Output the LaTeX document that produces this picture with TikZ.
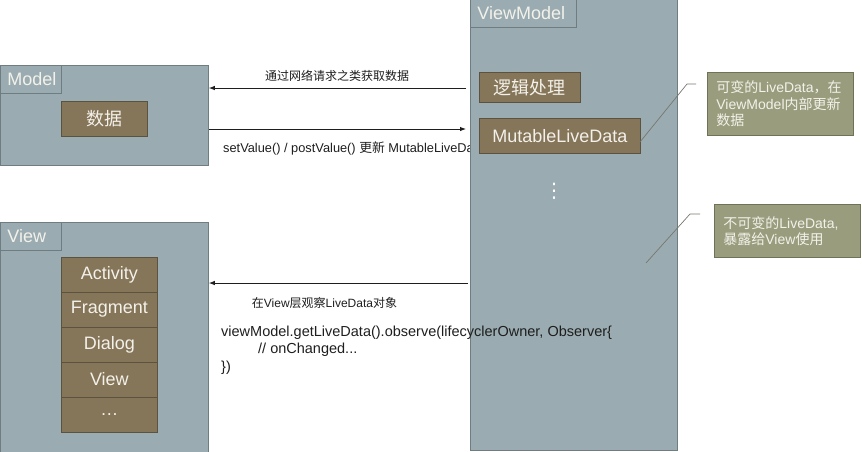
\documentclass[tikz,border=0pt]{standalone}
\usepackage{fontspec}
\setmainfont{Liberation Sans}
\newfontfamily\cjk{Noto Sans CJK SC}
\newfontfamily\dejavu{DejaVu Sans}
\newcommand\zh[1]{{\cjk #1}}
\usetikzlibrary{arrows.meta}
\definecolor{panel}{HTML}{9AACB1}
\definecolor{brownbox}{HTML}{857559}
\definecolor{olivebox}{HTML}{9A9D7D}
\definecolor{edgegray}{HTML}{6F7C80}
\definecolor{edgebrown}{HTML}{5C5240}
\definecolor{edgeolive}{HTML}{707258}
\definecolor{lighttext}{HTML}{F3F1EA}
\definecolor{leadercol}{HTML}{77776F}
\definecolor{inkcol}{HTML}{1E1E1E}
\tikzset{
  panelbox/.style={draw=edgegray, fill=panel, line width=0.8pt, anchor=north west, inner sep=0pt},
  titlebox/.style={draw=edgegray, fill=panel, line width=0.8pt, text=lighttext,
    font=\fontsize{18}{20}\selectfont, anchor=north west, inner xsep=7pt, inner ysep=0pt,
    minimum height=28pt, align=left, text width=#1},
  brownbox/.style={draw=edgebrown, fill=brownbox, line width=0.8pt, text=lighttext,
    font=\fontsize{18}{20}\selectfont, anchor=north west, inner sep=0pt},
  calloutbox/.style={draw=edgeolive, fill=olivebox, line width=0.8pt, text=lighttext,
    font=\fontsize{14}{16.5}\selectfont, anchor=north west, inner xsep=9pt, inner ysep=0pt,
    align=left},
  arr/.style={draw=inkcol, line width=0.9pt, -{Latex[length=6pt,width=4.5pt]}},
  leader/.style={draw=leadercol, line width=0.7pt},
  lbl/.style={text=inkcol, inner sep=0pt, font=\fontsize{12}{14}\selectfont},
}
\begin{document}
\begin{tikzpicture}[x=1pt,y=-1pt]
\useasboundingbox (0,0) rectangle (862,451);

% ---------------- Model ----------------
\node[panelbox, minimum width=208pt, minimum height=100pt] (model) at (0,65) {};
\node[titlebox=47pt] (modelt) at (0,65) {Model};
\node[brownbox, minimum width=86pt, minimum height=35pt] (data) at (61,101) {\zh{数据}};

% ---------------- View ----------------
\node[panelbox, minimum width=208pt, minimum height=230pt] (view) at (0,222) {};
\node[titlebox=47pt] (viewt) at (0,222) {View};
\node[brownbox, minimum width=96pt, minimum height=34.5pt] (act) at (61,257) {Activity};
\node[brownbox, minimum width=96pt, minimum height=35pt] (frag) at (61,291.5) {Fragment};
\node[brownbox, minimum width=96pt, minimum height=35pt] (dlg) at (61,326.5) {Dialog};
\node[brownbox, minimum width=96pt, minimum height=35pt] (vw) at (61,361.5) {View};
\node[brownbox, minimum width=96pt, minimum height=35pt] (more) at (61,396.5) {…};

% ---------------- connectors and labels ----------------
\coordinate (a1) at (466,88);
\draw[arr] (a1) -- (a1 -| model.east);
\node[lbl] (l1) at (337,76) {\zh{通过网络请求之类获取数据}};

\coordinate (a2) at (466,129);
\draw[arr] (a2 -| model.east) -- (a2);
\node[lbl, anchor=west, font=\fontsize{12.8}{14}\selectfont] (l2) at (223,148) {setValue() / postValue() \zh{更新} MutableLiveData};

\coordinate (a3) at (468,283);
\draw[arr] (a3) -- (a3 -| view.east);
\node[lbl] (l3) at (324.5,303) {\zh{在}View\zh{层观察}LiveData\zh{对象}};

% ---------------- ViewModel ----------------
\node[panelbox, minimum width=207pt, minimum height=451pt] (vm) at (470,-1) {};
\node[titlebox=92pt] (vmt) at (470,-1) {ViewModel};
\node[brownbox, minimum width=101pt, minimum height=30pt] (logic) at (479,72) {\zh{逻辑处理}};
\node[brownbox, minimum width=161pt, minimum height=35pt] (mld) at (479,118) {MutableLiveData};
\node[text=white, inner sep=0pt, font=\dejavu\fontsize{20}{22}\selectfont] (dots) at (554,191) {⋮};

% ---------------- callouts ----------------
\node[calloutbox, text width=128pt, minimum height=63pt] (c1) at (707,72)
  {\zh{可变的}LiveData\zh{，在}\\ViewModel\zh{内部更新}\\\zh{数据}};
\node[calloutbox, text width=128pt, minimum height=53pt] (c2) at (714,204)
  {\zh{不可变的}LiveData,\\\zh{暴露给}View\zh{使用}};

\coordinate (k1a) at (640,142);
\coordinate (k1b) at (687,84);
\coordinate (k1c) at (696,84);
\draw[leader] (k1a) -- (k1b) -- (k1c);
\coordinate (k2a) at (646,263);
\coordinate (k2b) at (690,214);
\coordinate (k2c) at (700,214);
\draw[leader] (k2a) -- (k2b) -- (k2c);

% ---------------- code ----------------
\node[anchor=north west, align=left, inner sep=0pt, text=inkcol,
  font=\fontsize{14.5}{17.5}\selectfont] (code) at (221,325.5)
  {viewModel.getLiveData().observe(lifecyclerOwner, Observer\{\\
   \hspace*{37pt}// onChanged...\\
   \})};
\end{tikzpicture}
\end{document}
